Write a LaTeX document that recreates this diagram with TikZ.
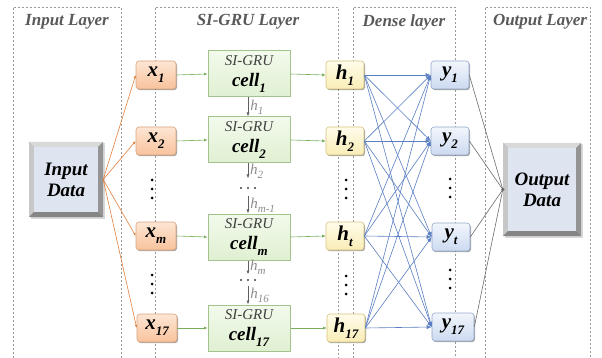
\documentclass[tikz,border=0pt]{standalone}
\usepackage{fontspec}
\setmainfont{Liberation Serif}
\usetikzlibrary{arrows.meta,shadows,calc}
\definecolor{xtop}{HTML}{FDE6D4}
\definecolor{xbot}{HTML}{F8C29C}
\definecolor{xdraw}{HTML}{D8A47E}
\definecolor{ctop}{HTML}{F2FAEC}
\definecolor{cbot}{HTML}{E0F0D2}
\definecolor{cdraw}{HTML}{A3C28C}
\definecolor{htop}{HTML}{FFFCEA}
\definecolor{hbot}{HTML}{F9EDB6}
\definecolor{hdraw}{HTML}{D6C27E}
\definecolor{ytop}{HTML}{F2F6FC}
\definecolor{ybot}{HTML}{CCDAF0}
\definecolor{ydraw}{HTML}{93A9CB}
\definecolor{dfill}{HTML}{DEE5F1}
\definecolor{orangel}{HTML}{E0803F}
\definecolor{greenl}{HTML}{7AAE5C}
\definecolor{bluel}{HTML}{5A7EC2}
\definecolor{titlegray}{HTML}{595959}
\newcommand{\sbs}[1]{\raisebox{-0.28em}{\fontsize{13}{13}\selectfont #1}}
\newcommand{\hsb}[1]{\raisebox{-0.25em}{\fontsize{11}{11}\selectfont #1}}
\tikzset{
  panel/.style={draw=gray!80, dashed, dash pattern=on 2pt off 2pt, line width=0.6pt},
  ptitle/.style={font=\fontsize{17}{17}\selectfont\bfseries\itshape, text=titlegray},
  nshadow/.style={drop shadow={shadow xshift=1pt, shadow yshift=-1.2pt, opacity=0.35, fill=black}},
  xbox/.style={rounded corners=3pt, draw=xdraw, line width=0.6pt, top color=xtop, bottom color=xbot, minimum width=40pt, minimum height=28pt, inner sep=0pt, font=\fontsize{21}{21}\selectfont\bfseries\itshape, nshadow},
  hbox/.style={xbox, draw=hdraw, top color=htop, bottom color=hbot, minimum width=38pt},
  ybox/.style={xbox, draw=ydraw, top color=ytop, bottom color=ybot, minimum width=38pt},
  cellbox/.style={draw=cdraw, line width=1pt, top color=ctop, bottom color=cbot, minimum width=82pt, minimum height=46pt, inner sep=0pt, align=center, font=\fontsize{19}{21}\selectfont},
  databox/.style={minimum width=74pt, minimum height=75pt, inner sep=0pt, align=center, font=\fontsize{19}{21}\selectfont\bfseries\itshape},
  oarr/.style={draw=orangel, line width=0.6pt, -{Latex[length=3pt,width=2.5pt]}},
  garr/.style={draw=greenl, line width=0.6pt, -{Latex[length=3.5pt,width=3pt]}},
  barr/.style={draw=bluel, line width=0.6pt, -{Latex[length=5pt,width=4pt]}},
  grarr/.style={draw=gray!85!black, line width=0.6pt},
  hgarr/.style={draw=gray!75!black, line width=0.7pt, -{Latex[length=4pt,width=3pt]}},
  hlab/.style={font=\fontsize{15}{15}\selectfont\itshape, text=gray!90, inner sep=2pt},
  dotsv/.style={fill=black, minimum size=3pt, inner sep=0pt, circle},
  hdots/.style={fill=black!75, minimum size=2.2pt, inner sep=0pt, circle},
}
\newcommand{\cellt}[1]{{\fontsize{15}{15}\selectfont\itshape\color{black!75}SI-GRU}\\{\bfseries\itshape cell\sbs{#1}}}
\newcommand{\bevel}[4]{% x1 y1 x2 y2
  \fill[black!35] (#1,#2) rectangle (#3,#4);
  \fill[black!15] (#1,#2) -- (#3,#2) -- (#3-5,#2+5) -- (#1+5,#2+5) -- cycle;
  \fill[black!22] (#1,#2) -- (#1+5,#2+5) -- (#1+5,#4-5) -- (#1,#4) -- cycle;
  \fill[black!42] (#3,#2) -- (#3,#4) -- (#3-5,#4-5) -- (#3-5,#2+5) -- cycle;
  \fill[black!48] (#1,#4) -- (#3,#4) -- (#3-5,#4-5) -- (#1+5,#4-5) -- cycle;
  \fill[dfill] (#1+5,#2+5) rectangle (#3-5,#4-5);
}
\begin{document}
\begin{tikzpicture}[x=1pt,y=-1pt]
\useasboundingbox (0,0) rectangle (602,358);
% panels
\draw[panel] (13,358) -- (13,7) -- (121,7) -- (121,358);
\draw[panel] (155,358) -- (155,7) -- (338,7) -- (338,358);
\draw[panel] (353,358) -- (353,7) -- (455,7) -- (455,358);
\draw[panel] (485,358) -- (485,7) -- (590,7) -- (590,358);
\node[ptitle] (t1) at (67,22) {Input Layer};
\node[ptitle] (t2) at (248,22) {SI-GRU Layer};
\node[ptitle] (t3) at (404,22) {Dense layer};
\node[ptitle] (t4) at (540,22) {Output Layer};
% data boxes
\begin{scope}[shift={(1.5,1.5)}]\fill[black!30,opacity=0.5] (29,142) rectangle (103,217);\end{scope}
\bevel{29}{142}{103}{217}
\node[databox] (in) at (66,179.5) {Input\\Data};
\begin{scope}[shift={(1.5,1.5)}]\fill[black!30,opacity=0.5] (503,143) rectangle (581,236);\end{scope}
\bevel{503}{143}{581}{236}
\node[databox, minimum width=78pt, minimum height=93pt] (out) at (542,189.5) {Output\\Data};
% x nodes
\node[xbox] (x1) at (156,75) {x\sbs{1}};
\node[xbox] (x2) at (156,141) {x\sbs{2}};
\node[xbox] (xm) at (156,236) {x\sbs{m}};
\node[xbox] (x17) at (157,328) {x\sbs{17}};
% cells
\node[cellbox] (c1) at (249,74) {\cellt{1}};
\node[cellbox] (c2) at (249,140) {\cellt{2}};
\node[cellbox] (cm) at (249,237) {\cellt{m}};
\node[cellbox] (c17) at (249,328) {\cellt{17}};
% h nodes
\node[hbox] (h1) at (345,75) {h\sbs{1}};
\node[hbox] (h2) at (345,141) {h\sbs{2}};
\node[hbox] (ht) at (345,236) {h\sbs{t}};
\node[hbox] (h17) at (346,328) {h\sbs{17}};
% y nodes
\node[ybox] (y1) at (450,75) {y\sbs{1}};
\node[ybox] (y2) at (450,141) {y\sbs{2}};
\node[ybox] (yt) at (451,237) {y\sbs{t}};
\node[ybox, minimum width=42pt] (y17) at (453,327) {y\sbs{17}};
% vertical dots
\foreach \n/\xx/\yy in {a/152/180,b/152/189,c/152/198,d/152/275,e/152/284,f/152/293,
  g/346/180,h/346/189,i/346/198,j/346/276,k/346/285,l/346/294,
  m/450/179,n/450/188,o/450/197,p/450/270,q/450/279,r/450/288}
  \node[dotsv] (dot\n) at (\xx,\yy) {};
% horizontal dots in SI-GRU column
\foreach \n/\xx/\yy in {s/241/188,t/248/188,u/255/188,v/241/280,w/248/280,z/255/280}
  \node[hdots] (dot\n) at (\xx,\yy) {};
% input to x
\foreach \t in {x1,x2,xm,x17} \draw[oarr] (in.east) -- (\t.west);
% x to cells, cells to h
\foreach \a/\b in {x1/c1,x2/c2,xm/cm,x17/c17,c1/h1,c2/h2,cm/ht,c17/h17}
  \draw[garr] (\a.east) -- (\b.west);
% dense
\foreach \a in {h1,h2,ht,h17}
  \foreach \b in {y1,y2,yt,y17}
    \draw[barr] (\a.east) -- (\b.west);
% y to output
\foreach \a in {y1,y2,yt,y17} \draw[grarr] (\a.east) -- (out.west);
\fill[gray!80!black] (out.west) circle (1.8pt);
% recurrent h arrows
\draw[hgarr] ($(c1.south)+(-1,0)$) -- ($(c2.north)+(-1,0)$) node[midway,right,hlab] {h\hsb{1}};
\draw[hgarr] ($(c2.south)+(-1,0)$) coordinate (a2) -- ++(0,15) coordinate (b2);
\node[hlab, right] (l2) at ($(a2)!0.5!(b2)$) {h\hsb{2}};
\coordinate (a3) at ($(cm.north)+(-1,-17)$);
\draw[hgarr] (a3) -- ($(cm.north)+(-1,0)$) node[midway,right,hlab] {h\hsb{m-1}};
\draw[hgarr] ($(cm.south)+(-1,0)$) coordinate (a4) -- ++(0,14) coordinate (b4);
\node[hlab, right] (l4) at ($(a4)!0.5!(b4)$) {h\hsb{m}};
\coordinate (a5) at ($(c17.north)+(-1,-19)$);
\draw[hgarr] (a5) -- ($(c17.north)+(-1,0)$) node[midway,right,hlab] {h\hsb{16}};
\end{tikzpicture}
\end{document}
